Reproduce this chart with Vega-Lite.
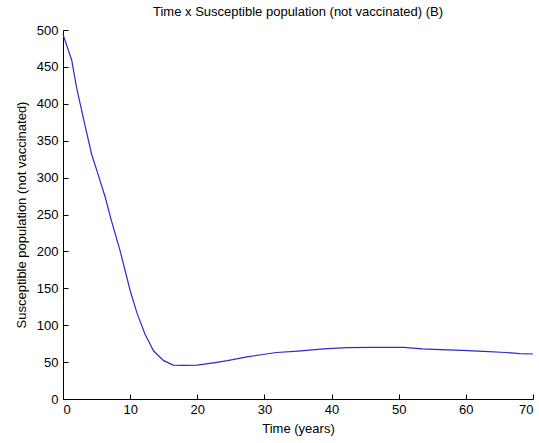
{
  "$schema": "https://vega.github.io/schema/vega-lite/v6.json",
  "width": 470,
  "height": 369,
  "autosize": {"type": "none"},
  "padding": {"left": 63, "top": 30, "right": 6, "bottom": 44},
  "background": "white",
  "config": {
    "view": {"stroke": null},
    "font": "Liberation Sans",
    "axis": {
      "grid": false,
      "domainColor": "black",
      "tickColor": "black",
      "labelColor": "black",
      "titleColor": "black",
      "labelFont": "Liberation Sans",
      "titleFont": "Liberation Sans",
      "labelFontSize": 13,
      "titleFontSize": 13,
      "titleFontWeight": "normal",
      "tickSize": -5,
      "domainWidth": 1,
      "tickWidth": 1
    }
  },
  "title": {
    "text": "Time x Susceptible population (not vaccinated) (B)",
    "font": "Liberation Sans",
    "fontSize": 13,
    "fontWeight": "normal",
    "color": "black",
    "anchor": "middle",
    "offset": 5
  },
  "data": {
    "values": [
      {"t": 0, "s": 494},
      {"t": 1.3, "s": 459},
      {"t": 2.0, "s": 423},
      {"t": 3.0, "s": 382},
      {"t": 4.25, "s": 332},
      {"t": 5.2, "s": 305},
      {"t": 6.3, "s": 273},
      {"t": 7.2, "s": 242},
      {"t": 8.5, "s": 201},
      {"t": 10.0, "s": 147},
      {"t": 11.0, "s": 117},
      {"t": 12.2, "s": 88},
      {"t": 13.5, "s": 65},
      {"t": 15.0, "s": 52},
      {"t": 16.4, "s": 46},
      {"t": 18.0, "s": 45.5},
      {"t": 20.0, "s": 46},
      {"t": 22.4, "s": 49},
      {"t": 24.5, "s": 52},
      {"t": 27.4, "s": 57},
      {"t": 29.5, "s": 60},
      {"t": 31.8, "s": 63},
      {"t": 35.0, "s": 65},
      {"t": 38.8, "s": 68},
      {"t": 42.3, "s": 69.5},
      {"t": 46.0, "s": 70},
      {"t": 50.7, "s": 70},
      {"t": 53.5, "s": 68},
      {"t": 56.2, "s": 67},
      {"t": 59.5, "s": 66},
      {"t": 62.6, "s": 64.5},
      {"t": 66.0, "s": 63},
      {"t": 68.0, "s": 61.5},
      {"t": 70.0, "s": 61}
    ]
  },
  "mark": {"type": "line", "color": "#2a2ad0", "strokeWidth": 1.2},
  "encoding": {
    "x": {
      "field": "t",
      "type": "quantitative",
      "scale": {"domain": [0, 70], "nice": false},
      "axis": {"title": "Time (years)", "values": [0, 10, 20, 30, 40, 50, 60, 70], "labelPadding": 9, "titlePadding": 6}
    },
    "y": {
      "field": "s",
      "type": "quantitative",
      "scale": {"domain": [0, 500], "nice": false},
      "axis": {"title": "Susceptible population (not vaccinated)", "values": [0, 50, 100, 150, 200, 250, 300, 350, 400, 450, 500], "labelPadding": 10, "titlePadding": 8}
    }
  }
}
